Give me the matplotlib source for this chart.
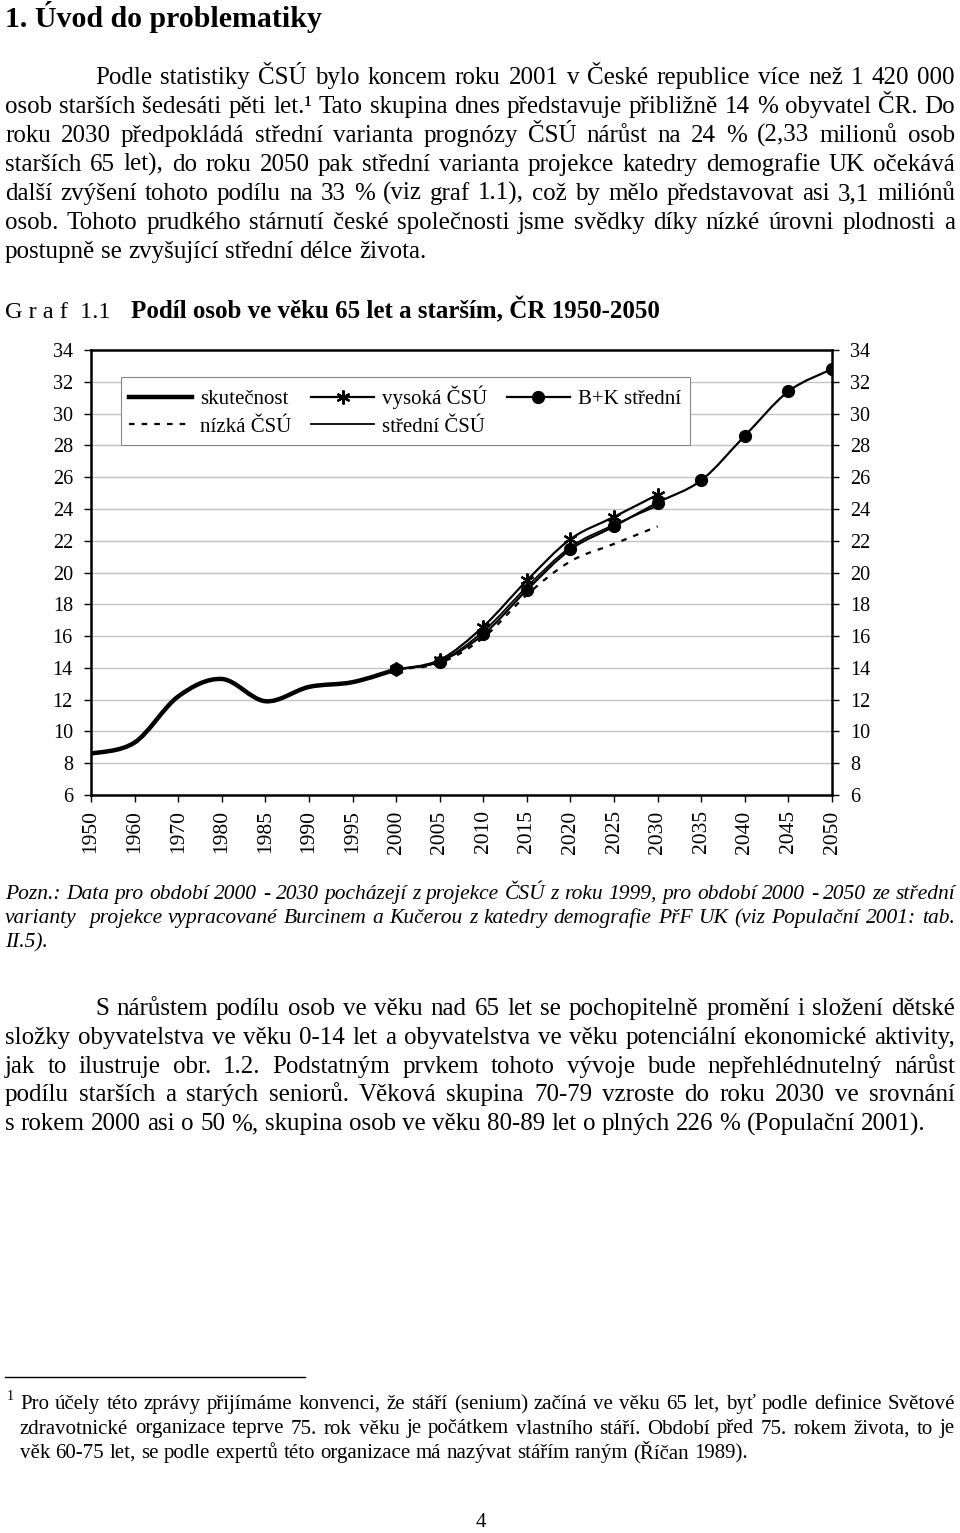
import numpy as np
import matplotlib
matplotlib.use('Agg')
import matplotlib.pyplot as plt
from matplotlib.path import Path
from matplotlib.patches import PathPatch
from matplotlib.lines import Line2D

# --- chart data (percent of population aged 65+) ---
years = ['1950', '1960', '1970', '1980', '1985', '1990', '1995', '2000', '2005',
         '2010', '2015', '2020', '2025', '2030', '2035', '2040', '2045', '2050']
skutecnost = [8.6, 9.3, 12.2, 13.3, 11.9, 12.8, 13.1, 13.9]          # 1950-2000
vysoka_csu = [13.9, 14.5, 16.6, 19.5, 22.1, 23.5, 24.9]              # 2000-2030
stredni_csu = [13.9, 14.4, 16.3, 19.1, 21.6, 23.0, 24.2]             # 2000-2030
nizka_csu = [13.9, 14.3, 15.9, 18.6, 20.7, 21.8, 22.9]               # 2000-2030
bk_stredni = [13.9, 14.4, 16.1, 18.9, 21.45, 22.9, 24.4, 25.8, 28.6, 31.4, 32.8]  # 2000-2050
y_ticks = list(range(6, 35, 2))

# --- page text ---
heading = '1. Úvod do problematiky'
para1 = [
    'Podle statistiky ČSÚ bylo koncem roku 2001 v České republice více než 1 420 000',
    'osob starších šedesáti pěti let.¹ Tato skupina dnes představuje přibližně 14 % obyvatel ČR. Do',
    'roku 2030 předpokládá střední varianta prognózy ČSÚ nárůst na 24 % (2,33 milionů osob',
    'starších 65 let), do roku 2050 pak střední varianta projekce katedry demografie UK očekává',
    'další zvýšení tohoto podílu na 33 % (viz graf 1.1), což by mělo představovat asi 3,1 miliónů',
    'osob. Tohoto prudkého stárnutí české společnosti jsme svědky díky nízké úrovni plodnosti a',
    'postupně se zvyšující střední délce života.',
]
pozn = [
    'Pozn.: Data pro období 2000 - 2030 pocházejí z projekce ČSÚ z roku 1999, pro období 2000 - 2050 ze střední',
    'varianty  projekce vypracované Burcinem a Kučerou z katedry demografie PřF UK (viz Populační 2001: tab.',
    'II.5).',
]
para2 = [
    'S nárůstem podílu osob ve věku nad 65 let se pochopitelně promění i složení dětské',
    'složky obyvatelstva ve věku 0-14 let a obyvatelstva ve věku potenciální ekonomické aktivity,',
    'jak to ilustruje obr. 1.2. Podstatným prvkem tohoto vývoje bude nepřehlédnutelný nárůst',
    'podílu starších a starých seniorů. Věková skupina 70-79 vzroste do roku 2030 ve srovnání',
    's rokem 2000 asi o 50 %, skupina osob ve věku 80-89 let o plných 226 % (Populační 2001).',
]
footnote = [
    'Pro účely této zprávy přijímáme konvenci, že stáří (senium) začíná ve věku 65 let, byť podle definice Světové',
    'zdravotnické organizace teprve 75. rok věku je počátkem vlastního stáří. Období před 75. rokem života, to je',
    'věk 60-75 let, se podle expertů této organizace má nazývat stářím raným (Říčan 1989).',
]

plt.rcParams['font.family'] = ['Liberation Serif', 'DejaVu Serif']

W, H = 960, 1533
fig = plt.figure(figsize=(9.6, 15.33), dpi=100)
renderer = fig.canvas.get_renderer()


def fx(x):
    return x / W


def fy(y):
    return 1 - y / H


def put_line(text, x0, y, x1=None, size=18, **kw):
    # one line of text, justified between x0 and x1 (pixels) if x1 given
    words = text.split(' ')
    objs = [fig.text(fx(x0), fy(y), w, fontsize=size, va='baseline', ha='left', **kw)
            for w in words]
    widths = [o.get_window_extent(renderer).width for o in objs]
    space = size * 100 / 72 * 0.25
    if x1 is None or len(words) == 1:
        gap = space
    else:
        gap = (x1 - x0 - sum(widths)) / (len(words) - 1)
    x = x0
    for o, w in zip(objs, widths):
        o.set_x(fx(x))
        x += w + gap


def put_par(lines, x_first, x0, x1, y0, step, size=18, **kw):
    for i, line in enumerate(lines):
        last = i == len(lines) - 1
        put_line(line, x_first if i == 0 else x0, y0 + i * step,
                 None if last else x1, size=size, **kw)


fig.text(fx(5), fy(27), heading, fontsize=21.5, fontweight='bold', va='baseline')
put_par(para1, 95, 5, 955, 84, 29)

fig.text(fx(5), fy(318), 'G r a f  1.1', fontsize=17.5, va='baseline')
fig.text(fx(131), fy(318), 'Podíl osob ve věku 65 let a starším, ČR 1950-2050',
         fontsize=18, fontweight='bold', va='baseline')

put_par(pozn, 5, 5, 955, 899, 24, size=15.5, style='italic')
put_par(para2, 95, 5, 955, 1015, 28.8)

fig.add_artist(Line2D([fx(5), fx(305)], [fy(1377), fy(1377)], color='black', lw=1))
fig.text(fx(7), fy(1400), '1', fontsize=10, va='baseline')
put_par(footnote, 20, 20, 955, 1409, 24.5, size=15)
fig.text(fx(481), fy(1527), '4', fontsize=15, va='baseline', ha='center')

# --- chart ---
ax = fig.add_axes([fx(91), fy(795), 741 / W, 445 / H])
x_all = np.arange(len(years))


def smooth_path(xs, ys):
    # Excel-like smoothed line: Catmull-Rom segments as cubic Beziers
    pts = np.column_stack([xs, ys]).astype(float)
    verts = [pts[0]]
    codes = [Path.MOVETO]
    for i in range(len(pts) - 1):
        p0 = pts[i - 1] if i > 0 else pts[i]
        p1, p2 = pts[i], pts[i + 1]
        p3 = pts[i + 2] if i + 2 < len(pts) else pts[i + 1]
        verts += [p1 + (p2 - p0) / 6, p2 - (p3 - p1) / 6, p2]
        codes += [Path.CURVE4] * 3
    return Path(verts, codes)


series = [
    ('skutečnost', x_all[0:8], skutecnost, dict(lw=3.2, ls='-'), None),
    ('nízká ČSÚ', x_all[7:14], nizka_csu, dict(lw=1.6, ls=(0, (2.5, 3.2))), None),
    ('vysoká ČSÚ', x_all[7:14], vysoka_csu, dict(lw=1.6, ls='-'), dict(marker=(6, 2, 0), ms=10, mew=1.6)),
    ('střední ČSÚ', x_all[7:14], stredni_csu, dict(lw=1.3, ls='-'), None),
    ('B+K střední', x_all[7:18], bk_stredni, dict(lw=1.6, ls='-'), dict(marker='o', ms=8.5)),
]

handles = []
for name, xs, ys, line_kw, mk in series:
    ax.add_patch(PathPatch(smooth_path(xs, ys), fill=False, ec='black',
                           zorder=3, **line_kw))
    if mk is not None:
        ax.plot(xs, ys, ls='none', color='black', mfc='black', mec='black', zorder=4, **mk)
    handles.append(Line2D([], [], color='black', linestyle=line_kw['ls'], lw=line_kw['lw'],
                          mfc='black', mec='black', **(mk or {})))

ax.set_xlim(0, len(years) - 1)
ax.set_ylim(6, 34)
ax.set_xticks(x_all)
ax.set_xticklabels(years, rotation=90, fontsize=15.5)
ax.set_yticks(y_ticks)
ax.set_yticklabels([str(v) for v in y_ticks], fontsize=14.5)
ax.tick_params(axis='y', which='major', left=True, right=True, labelleft=True,
               labelright=True, direction='out', length=5, width=1, pad=8)
ax.tick_params(axis='x', direction='out', length=5, width=1, pad=6)
ax.grid(axis='y', color='#c4c4c4', lw=1)
ax.set_axisbelow(True)
for s in ax.spines.values():
    s.set_linewidth(1.8)

leg = ax.legend(handles, [s[0] for s in series], ncol=3, loc='upper left',
                bbox_to_anchor=(30 / 741, (795 - 377) / 445), borderaxespad=0,
                fontsize=15, handlelength=3.0, handletextpad=0.4, columnspacing=0.95,
                borderpad=0.4, labelspacing=0.4, fancybox=False, framealpha=1,
                edgecolor='#888888')
leg.get_frame().set_linewidth(0.8)

fig.savefig('out.png', dpi=100)
